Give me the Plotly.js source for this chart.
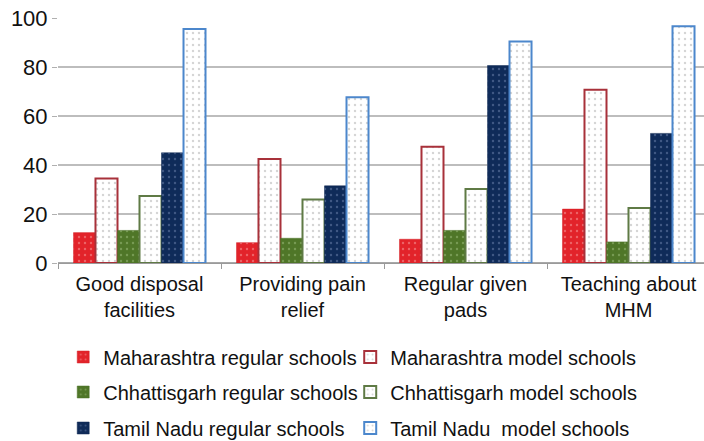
<!DOCTYPE html>
<html>
<head>
<meta charset="utf-8">
<script src="https://cdn.plot.ly/plotly-3.0.1.min.js"></script>
<style>
html,body{margin:0;padding:0;background:#fff;overflow:hidden;}
#chart{width:710px;height:441px;}
</style>
</head>
<body>
<div id="chart"></div>
<script>
const categories = ["Good disposal<br>facilities", "Providing pain<br>relief", "Regular given<br>pads", "Teaching about<br>MHM"];
const seriesNames = [
  "Maharashtra regular schools", "Maharashtra model schools",
  "Chhattisgarh regular schools", "Chhattisgarh model schools",
  "Tamil Nadu regular schools", "Tamil Nadu  model schools"
];
const maharashtraRegular = [12.4, 8.3, 9.7, 22.0];
const maharashtraModel   = [34.5, 42.4, 47.5, 70.7];
const chhattisgarhRegular = [13.3, 10.1, 13.3, 8.6];
const chhattisgarhModel   = [27.3, 25.9, 30.2, 22.5];
const tamilNaduRegular = [45.0, 31.5, 80.6, 52.9];
const tamilNaduModel   = [95.5, 67.7, 90.4, 96.6];
const yTicks = [0, 20, 40, 60, 80, 100];

const values = [maharashtraRegular, maharashtraModel, chhattisgarhRegular, chhattisgarhModel, tamilNaduRegular, tamilNaduModel];
const styles = [
  {fill: "#e2232a", line: "#d42027", dots: "#f7a3a3", legend: "legend"},
  {fill: "#ffffff", line: "#a8313a", dots: "#a9a9a9", legend: "legend"},
  {fill: "#4f7628", line: "#4a7026", dots: "#9fbf80", legend: "legend2"},
  {fill: "#ffffff", line: "#5f7a45", dots: "#a9a9a9", legend: "legend2"},
  {fill: "#0f2b59", line: "#0d2750", dots: "#6f86b0", legend: "legend3"},
  {fill: "#ffffff", line: "#4c87cc", dots: "#a9a9a9", legend: "legend3"}
];

const traces = values.map((v, i) => ({
  type: "bar",
  name: seriesNames[i],
  x: categories,
  y: v,
  legend: styles[i].legend,
  marker: {
    color: styles[i].fill,
    line: {color: styles[i].line, width: i % 2 === 1 ? 2 : 0.5},
    pattern: {shape: ".", bgcolor: styles[i].fill, fgcolor: styles[i].dots, size: 6, solidity: 0.12, fillmode: "overlay"}
  },
  hoverinfo: "skip"
}));

const legendFont = {family: "Liberation Sans, Arial, sans-serif", size: 20, color: "#111111"};
function mkLegend(yPix) {
  return {
    orientation: "h", x: 0.008, xref: "paper", xanchor: "left",
    y: 1 - yPix / 441, yref: "container", yanchor: "middle",
    font: legendFont, bgcolor: "rgba(0,0,0,0)",
    entrywidth: 242, entrywidthmode: "pixels",
    itemwidth: 30, traceorder: "normal"
  };
}

const layout = {
  width: 710, height: 441,
  margin: {l: 58, r: 0, t: 18, b: 178, autoexpand: false},
  paper_bgcolor: "#ffffff", plot_bgcolor: "#ffffff",
  barmode: "group", bargap: 0.19, bargroupgap: 0,
  font: {family: "Liberation Sans, Arial, sans-serif", color: "#111111"},
  showlegend: true,
  xaxis: {
    type: "category",
    tickfont: {size: 20, color: "#111111"},
    ticks: "outside", tickson: "boundaries", ticklen: 5, tickcolor: "#9a9a9a",
    ticklabelstandoff: 3,
    showline: true, linecolor: "#9a9a9a", linewidth: 1,
    showgrid: false, fixedrange: true, automargin: false
  },
  yaxis: {
    range: [0, 100], tickvals: yTicks, ticktext: yTicks.map(String),
    tickfont: {size: 22, color: "#111111"},
    ticks: "outside", ticklen: 5, tickcolor: "#b0b0b0",
    showgrid: true, gridcolor: "#bdbdbd", gridwidth: 1.5,
    zeroline: true, zerolinecolor: "#a8a8a8", zerolinewidth: 1.5,
    showline: false, fixedrange: true, automargin: false
  },
  legend: mkLegend(357),
  legend2: mkLegend(392),
  legend3: mkLegend(428)
};

Plotly.newPlot("chart", traces, layout, {displayModeBar: false, staticPlot: true});
</script>
</body>
</html>
